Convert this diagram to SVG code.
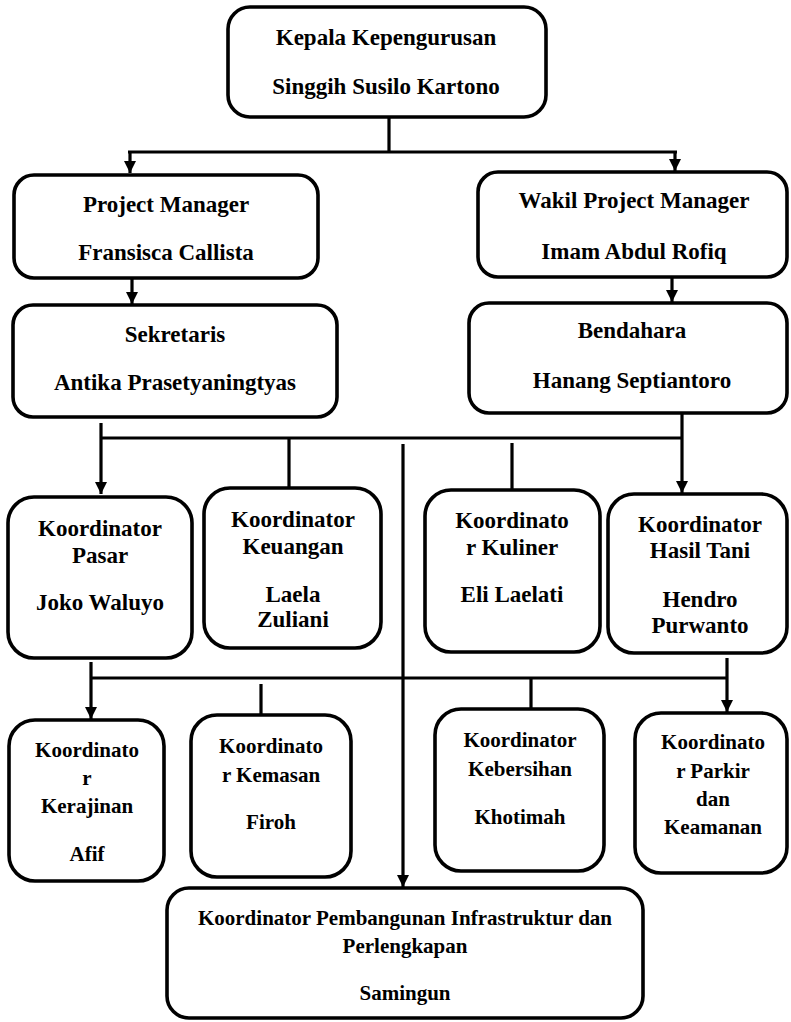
<svg xmlns="http://www.w3.org/2000/svg" width="791" height="1022" viewBox="0 0 791 1022">
<style>
.box{fill:#fff;stroke:#000;stroke-width:3.6}
.t{font-family:"Liberation Serif","Times New Roman",serif;font-weight:bold;font-size:23px;text-anchor:middle;fill:#000}
.s{font-size:21px}
.ln{fill:none;stroke:#000;stroke-width:3.2}
</style>
<defs>
<marker id="ah" markerUnits="userSpaceOnUse" markerWidth="12" markerHeight="14" viewBox="0 0 12 14" refX="12" refY="6" orient="auto">
<path d="M0,0 L12,6 L0,12 Z" fill="#000"/>
</marker>
</defs>
<rect width="791" height="1022" fill="#fff"/>
<g id="connectors">
<path class="ln" d="M389 117 V152 M128 152 H677"/>
<path class="ln" d="M130 152 V173" marker-end="url(#ah)"/>
<path class="ln" d="M675 152 V171" marker-end="url(#ah)"/>
<path class="ln" d="M132 278 V304" marker-end="url(#ah)"/>
<path class="ln" d="M672 277 V302" marker-end="url(#ah)"/>
<path class="ln" d="M101 423 V438 M101 438 H682 M289 438 V488 M512 443 V490"/>
<path class="ln" d="M101 438 V494" marker-end="url(#ah)"/>
<path class="ln" d="M682 413 V493" marker-end="url(#ah)"/>
<path class="ln" d="M403 444 V887" marker-end="url(#ah)"/>
<path class="ln" d="M91 662 V678 M91 678 H727 M261 684 V714 M531 678 V709"/>
<path class="ln" d="M91 678 V719" marker-end="url(#ah)"/>
<path class="ln" d="M727 658 V712" marker-end="url(#ah)"/>
</g>
<g id="kepala">
<rect class="box" x="228" y="7" width="318" height="110" rx="22"/>
<text class="t" x="386" y="45">Kepala Kepengurusan</text>
<text class="t" x="386" y="94">Singgih Susilo Kartono</text>
</g>
<g id="pm">
<rect class="box" x="14" y="175" width="304" height="103" rx="20"/>
<text class="t" x="166" y="212">Project Manager</text>
<text class="t" x="166" y="260">Fransisca Callista</text>
</g>
<g id="wakil">
<rect class="box" x="478" y="172" width="309" height="105" rx="20"/>
<text class="t" x="634" y="208">Wakil Project Manager</text>
<text class="t" x="634" y="259">Imam Abdul Rofiq</text>
</g>
<g id="sekretaris">
<rect class="box" x="13" y="305" width="324" height="112" rx="20"/>
<text class="t" x="175" y="342">Sekretaris</text>
<text class="t" x="175" y="390">Antika Prasetyaningtyas</text>
</g>
<g id="bendahara">
<rect class="box" x="469" y="303" width="318" height="110" rx="20"/>
<text class="t" x="632" y="338">Bendahara</text>
<text class="t" x="632" y="388">Hanang Septiantoro</text>
</g>
<g id="pasar">
<rect class="box" x="8" y="497" width="184" height="161" rx="26"/>
<text class="t" x="100" y="536">Koordinator</text>
<text class="t" x="100" y="563">Pasar</text>
<text class="t" x="100" y="610">Joko Waluyo</text>
</g>
<g id="keuangan">
<rect class="box" x="204" y="488" width="177" height="160" rx="26"/>
<text class="t" x="293" y="527">Koordinator</text>
<text class="t" x="293" y="554">Keuangan</text>
<text class="t" x="293" y="602">Laela</text>
<text class="t" x="293" y="627">Zuliani</text>
</g>
<g id="kuliner">
<rect class="box" x="425" y="490" width="175" height="162" rx="26"/>
<text class="t" x="512" y="528">Koordinato</text>
<text class="t" x="512" y="555">r Kuliner</text>
<text class="t" x="512" y="602">Eli Laelati</text>
</g>
<g id="hasiltani">
<rect class="box" x="608" y="494" width="179" height="159" rx="26"/>
<text class="t" x="700" y="532">Koordinator</text>
<text class="t" x="700" y="558">Hasil Tani</text>
<text class="t" x="700" y="607">Hendro</text>
<text class="t" x="700" y="633">Purwanto</text>
</g>
<g id="kerajinan">
<rect class="box" x="9" y="720" width="155" height="161" rx="26"/>
<text class="t s" x="87" y="757">Koordinato</text>
<text class="t s" x="87" y="785">r</text>
<text class="t s" x="87" y="813">Kerajinan</text>
<text class="t s" x="87" y="861">Afif</text>
</g>
<g id="kemasan">
<rect class="box" x="191" y="715" width="160" height="162" rx="26"/>
<text class="t s" x="271" y="753">Koordinato</text>
<text class="t s" x="271" y="782">r Kemasan</text>
<text class="t s" x="271" y="829">Firoh</text>
</g>
<g id="kebersihan">
<rect class="box" x="435" y="709" width="169" height="162" rx="26"/>
<text class="t s" x="520" y="747">Koordinator</text>
<text class="t s" x="520" y="776">Kebersihan</text>
<text class="t s" x="520" y="824">Khotimah</text>
</g>
<g id="parkir">
<rect class="box" x="635" y="713" width="152" height="160" rx="26"/>
<text class="t s" x="713" y="749">Koordinato</text>
<text class="t s" x="713" y="778">r Parkir</text>
<text class="t s" x="713" y="806">dan</text>
<text class="t s" x="713" y="834">Keamanan</text>
</g>
<g id="samingun">
<rect class="box" x="167" y="888" width="476" height="130" rx="22"/>
<text class="t s" x="405" y="925">Koordinator Pembangunan Infrastruktur dan</text>
<text class="t s" x="405" y="953">Perlengkapan</text>
<text class="t s" x="405" y="1000">Samingun</text>
</g>
</svg>
